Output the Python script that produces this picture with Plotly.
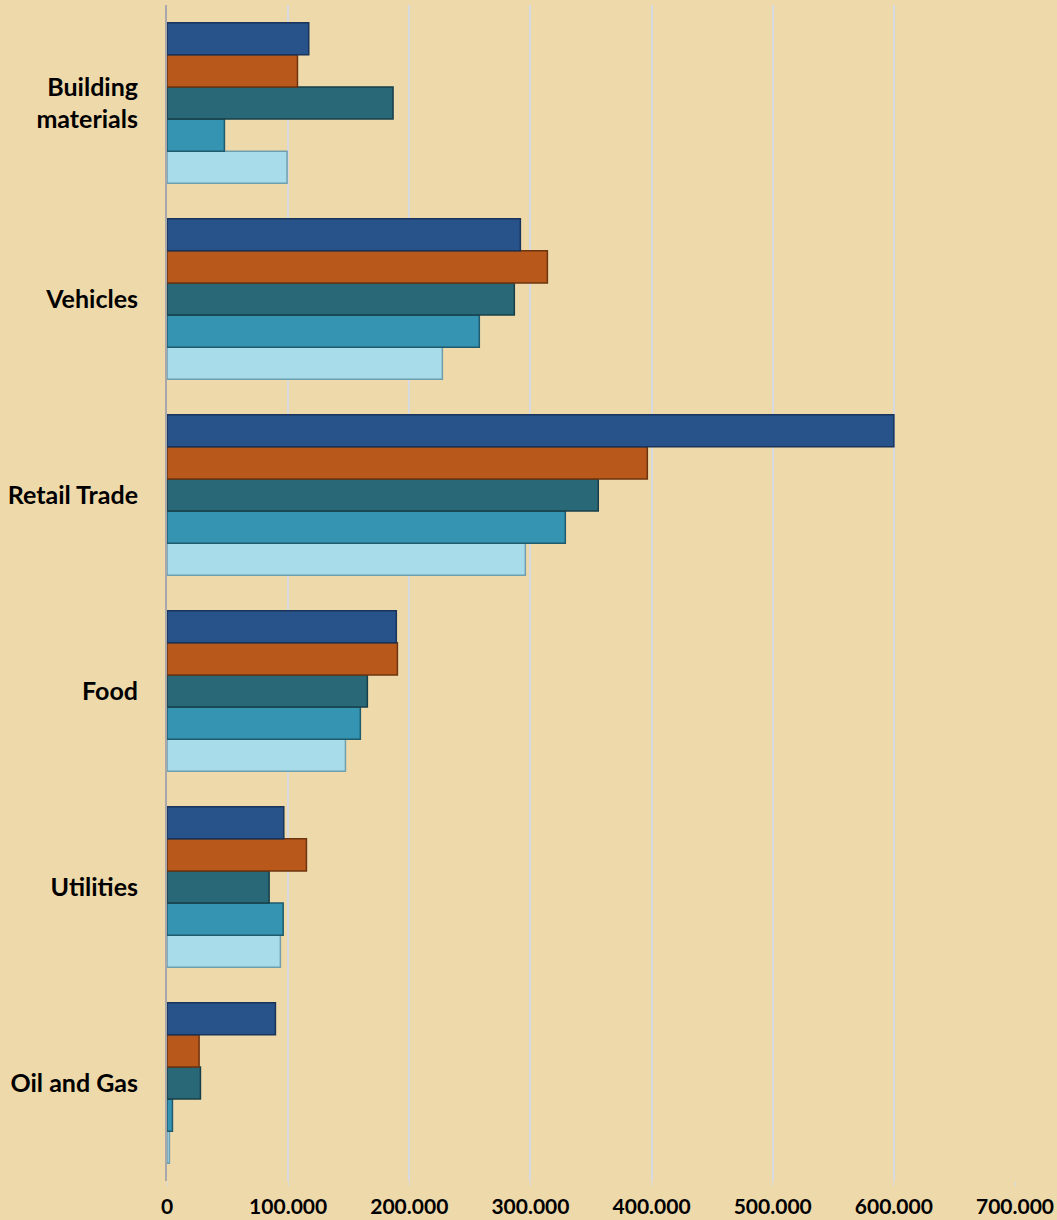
import plotly.graph_objects as go

# Sectors, listed bottom to top as they appear on the axis
categories = ["Oil and Gas", "Utilities", "Food", "Retail Trade", "Vehicles", "Building<br>materials"]

# Five series per sector (top bar in each group first)
series_1 = [89500, 96400, 189300, 600000, 291700, 117000]
series_2 = [26500, 115100, 190200, 396500, 314000, 107700]
series_3 = [27600, 84300, 165400, 356000, 286700, 186600]
series_4 = [4500, 95900, 159600, 328800, 257800, 47400]
series_5 = [2000, 93600, 147300, 295800, 227300, 99100]

series_names = ["Series 1", "Series 2", "Series 3", "Series 4", "Series 5"]
series_values = [series_1, series_2, series_3, series_4, series_5]
fill_colors = ["#27528a", "#b8581a", "#286877", "#3494b2", "#a9dcea"]
edge_colors = ["#1a3358", "#6e3410", "#173f49", "#1f5b6d", "#6f9fae"]

x_ticks = [0, 100000, 200000, 300000, 400000, 500000, 600000, 700000]

fig = go.Figure()
# Plotly puts the first grouped trace at the bottom, so add them in reverse
for name, vals, fc, ec in reversed(list(zip(series_names, series_values, fill_colors, edge_colors))):
    fig.add_trace(go.Bar(
        y=categories, x=vals, name=name, orientation="h",
        marker=dict(color=fc, line=dict(color=ec, width=1.5)),
    ))

fig.update_layout(
    width=1057, height=1220,
    margin=dict(l=167, r=42, t=5, b=39),
    paper_bgcolor="#eed9aa",
    plot_bgcolor="#eed9aa",
    barmode="group",
    bargap=0.18,
    bargroupgap=0,
    showlegend=False,
    separators=",.",
    font=dict(family="Lato, 'Open Sans', sans-serif", color="#000000"),
)
fig.update_xaxes(
    range=[0, 700000],
    tickvals=x_ticks,
    tickformat=",d",
    automargin=False,
    showgrid=True, gridcolor="#d6d9e0", gridwidth=1.5,
    zeroline=False,
    showline=False,
    ticks="outside", ticklen=4, tickcolor="#d6d9e0",
    ticklabelstandoff=3,
    tickfont=dict(size=21, family="Lato, 'Open Sans', sans-serif", weight="bold"),
)
fig.update_yaxes(
    categoryorder="array", categoryarray=categories,
    automargin=False,
    showline=True, linecolor="#a8a8ac", linewidth=2,
    showgrid=False,
    ticks="", ticklabelstandoff=22,
    tickfont=dict(size=25, family="Lato, 'Open Sans', sans-serif", weight="bold"),
)

fig.write_html("out.html")
